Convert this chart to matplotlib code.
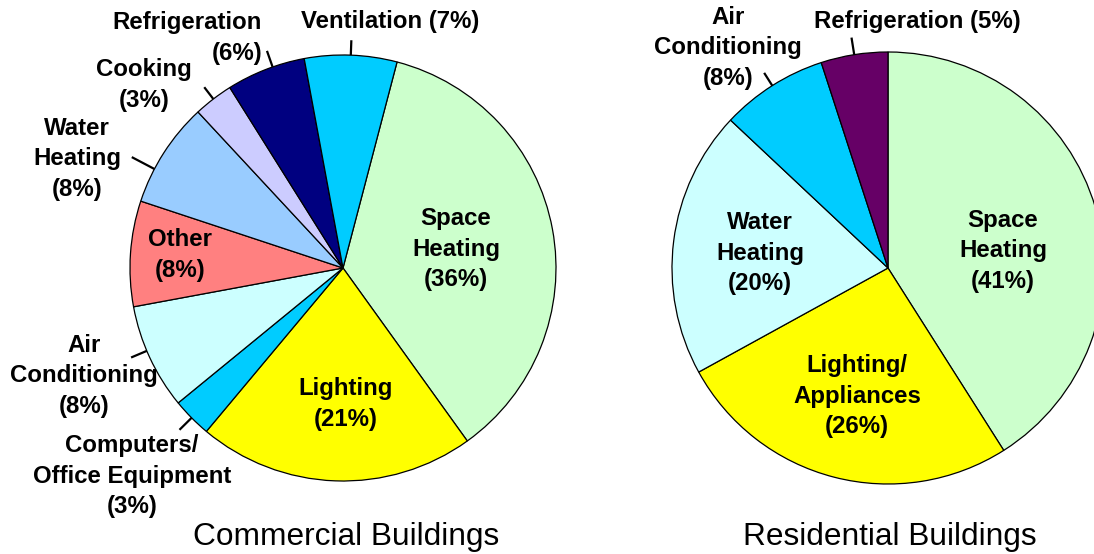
import matplotlib
matplotlib.use("Agg")
import matplotlib.pyplot as plt
import numpy as np

plt.rcParams['font.family'] = ['Liberation Sans', 'DejaVu Sans']

# ---- data ----
com_labels = ["Space\nHeating\n(36%)", "Lighting\n(21%)", "Computers/\nOffice Equipment\n(3%)",
              "Air\nConditioning\n(8%)", "Other\n(8%)", "Water\nHeating\n(8%)", "Cooking\n(3%)",
              "Refrigeration\n(6%)", "Ventilation (7%)"]
com_values = [36, 21, 3, 8, 8, 8, 3, 6, 7]
com_colors = ["#CCFFCC", "#FFFF00", "#00CCFF", "#CCFFFF", "#FF8080", "#99CCFF", "#CCCCFF",
              "#000080", "#00CCFF"]

res_labels = ["Space\nHeating\n(41%)", "Lighting/\nAppliances\n(26%)", "Water\nHeating\n(20%)",
              "Air\nConditioning\n(8%)", "Refrigeration (5%)"]
res_values = [41, 26, 20, 8, 5]
res_colors = ["#CCFFCC", "#FFFF00", "#CCFFFF", "#00CCFF", "#660066"]

titles = ["Commercial Buildings", "Residential Buildings"]

# ---- layout (label positions in pie-radius units) ----
com_pos = [(0.531, 0.089, 'center'), (0.014, -0.638, 'center'), (-0.991, -0.977, 'center'),
           (-1.216, -0.507, 'center'), (-0.765, 0.061, 'center'), (-1.249, 0.512, 'center'),
           (-0.934, 0.859, 'center'), (-0.380, 1.080, 'right'), (0.221, 1.155, 'center')]
com_leader = [0, 0, 0.08, 0.08, 0, 0.12, 0.07, 0.08, 0.07]
com_lead_shift = [0, 0, 0, -2, 0, 5, 0, -2, 0]

res_pos = [(0.532, 0.079, 'center'), (-0.144, -0.593, 'center'), (-0.593, 0.069, 'center'),
           (-0.741, 1.019, 'center'), (0.134, 1.139, 'center')]
res_leader = [0, 0, 0, 0.07, 0.08]
res_lead_shift = [0, 0, 0, 0, 0]

W, H = 1094, 554
fig = plt.figure(figsize=(W / 100, H / 100), dpi=100)
fig.patch.set_facecolor('white')

FS = 17.3


def draw(rect, values, colors, labels, pos, leader, shift, startangle):
    ax = fig.add_axes(rect)
    wedges, _ = ax.pie(values, colors=colors, startangle=startangle, counterclock=False,
                       radius=1.0, wedgeprops=dict(edgecolor='black', linewidth=0.9))
    ax.set_xlim(-1, 1)
    ax.set_ylim(-1, 1)
    ax.set_aspect('equal')
    ax.axis('off')
    for w, lab, (x, y, ha), ln, sh in zip(wedges, labels, pos, leader, shift):
        ax.text(x, y, lab, ha=ha, va='center', multialignment=ha, fontsize=FS,
                fontweight='bold', linespacing=1.42, clip_on=False)
        if ln > 0:
            a = np.deg2rad((w.theta1 + w.theta2) / 2 + sh)
            ax.plot([np.cos(a), (1 + ln) * np.cos(a)], [np.sin(a), (1 + ln) * np.sin(a)],
                    color='black', lw=1.6, clip_on=False, solid_capstyle='butt')
    return ax


cx, cy, r = 343, 268, 213
draw([(cx - r) / W, (H - cy - r) / H, 2 * r / W, 2 * r / H], com_values, com_colors,
     com_labels, com_pos, com_leader, com_lead_shift, 75.3)

cx2, cy2, r2 = 888, 268, 216
draw([(cx2 - r2) / W, (H - cy2 - r2) / H, 2 * r2 / W, 2 * r2 / H], res_values, res_colors,
     res_labels, res_pos, res_leader, res_lead_shift, 90)

fig.text(346 / W, 1 - 537 / H, titles[0], ha='center', va='center', fontsize=22.8)
fig.text(890 / W, 1 - 537 / H, titles[1], ha='center', va='center', fontsize=22.8)

fig.savefig('out.png', dpi=100)
